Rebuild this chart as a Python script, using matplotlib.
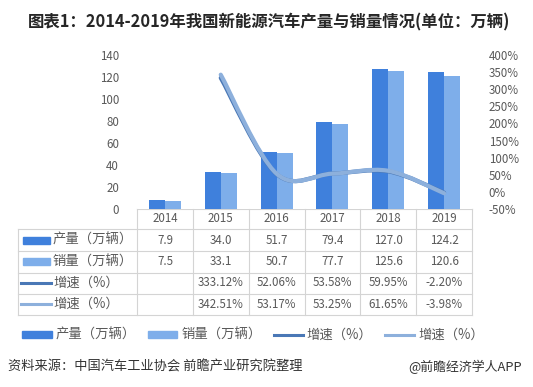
import numpy as np
import matplotlib
matplotlib.use('Agg')
import matplotlib.pyplot as plt
from matplotlib.path import Path
from matplotlib.patches import PathPatch, Patch, Rectangle
from matplotlib.lines import Line2D
from matplotlib.transforms import blended_transform_factory

plt.rcParams['font.family'] = ['Noto Sans CJK SC', 'DejaVu Sans']

# data
years = ['2014', '2015', '2016', '2017', '2018', '2019']
production = [7.9, 34.0, 51.7, 79.4, 127.0, 124.2]
sales = [7.5, 33.1, 50.7, 77.7, 125.6, 120.6]
prod_growth = [np.nan, 333.12, 52.06, 53.58, 59.95, -2.20]
sales_growth = [np.nan, 342.51, 53.17, 53.25, 61.65, -3.98]

row_labels = ['产量（万辆）', '销量（万辆）', '增速（%）', '增速（%）']

c_prod = '#3f80dc'
c_sales = '#7eaeea'
c_pg = '#4a78b6'
c_sg = '#8db0dc'
grey_txt = '#595959'
grid_c = '#d4d4d4'

W, H = 533, 387
fig = plt.figure(figsize=(W / 100, H / 100), dpi=100)


def fx(px):
    return px / W


def fy(py):
    return 1 - py / H


# overlay in pixel coordinates for the table / texts
ov = fig.add_axes([0, 0, 1, 1], zorder=-1)
ov.set_xlim(0, W)
ov.set_ylim(H, 0)
ov.axis('off')

# main chart
ax = fig.add_axes([fx(137), fy(209), (472 - 137) / W, (209 - 55) / H])
x = np.arange(len(years))
bw = 0.287
ax.bar(x - bw / 2, production, bw, color=c_prod, zorder=2)
ax.bar(x + bw / 2, sales, bw, color=c_sales, zorder=2)
ax.set_xlim(-0.5, len(years) - 0.5)
ax.set_ylim(0, 140)
ax.set_yticks(range(0, 141, 20))
ax.set_xticks([])
for s in ['top', 'right', 'left', 'bottom']:
    ax.spines[s].set_visible(False)
ax.tick_params(axis='y', length=0, pad=13, labelsize=8.3, labelcolor=grey_txt)

ax2 = ax.twinx()
ax2.set_ylim(-50, 400)
ax2.set_yticks(range(-50, 401, 50))
ax2.set_yticklabels([f'{v}%' for v in range(-50, 401, 50)])
for s in ['top', 'right', 'left', 'bottom']:
    ax2.spines[s].set_visible(False)
ax2.tick_params(axis='y', length=0, pad=12, labelsize=8.3, labelcolor=grey_txt)


def smooth_path(xs, ys):
    # Catmull-Rom style bezier (like Excel's smoothed line)
    pts = [(a, b) for a, b in zip(xs, ys) if not np.isnan(b)]
    pts = np.array(pts)
    n = len(pts)
    verts = [pts[0]]
    codes = [Path.MOVETO]
    for i in range(n - 1):
        p0 = pts[i - 1] if i > 0 else pts[i]
        p1 = pts[i]
        p2 = pts[i + 1]
        p3 = pts[i + 2] if i + 2 < n else pts[i + 1]
        c1 = p1 + (p2 - p0) / 6
        c2 = p2 - (p3 - p1) / 6
        verts += [c1, c2, p2]
        codes += [Path.CURVE4] * 3
    return Path(verts, codes)


ax2.add_patch(PathPatch(smooth_path(x, prod_growth), fill=False,
                        edgecolor=c_pg, lw=3.0, capstyle='round', zorder=3))
ax2.add_patch(PathPatch(smooth_path(x, sales_growth), fill=False,
                        edgecolor=c_sg, lw=3.0, capstyle='round', zorder=4))

# data table under the chart
tr = blended_transform_factory(ax.transData, ov.transData)
row_y = [240, 261.5, 283, 304]
ov.plot([137, 472], [209, 209], color=grid_c, lw=0.8)
for yy in [229, 251, 273, 294, 315]:
    ov.plot([18, 472], [yy, yy], color=grid_c, lw=0.8)
ov.plot([18, 18], [229, 315], color=grid_c, lw=0.8)
for i in range(len(years) + 1):
    ax.plot([i - 0.5, i - 0.5], [209, 315], color=grid_c, lw=0.8,
            transform=tr, clip_on=False)

rows = [[f'{v:.1f}' for v in production],
        [f'{v:.1f}' for v in sales],
        ['' if np.isnan(v) else f'{v:.2f}%' for v in prod_growth],
        ['' if np.isnan(v) else f'{v:.2f}%' for v in sales_growth]]
for i, yr in enumerate(years):
    ax.text(i, 219, yr, transform=tr, ha='center', va='center',
            fontsize=8.3, color=grey_txt, clip_on=False)
    for r, vals in enumerate(rows):
        ax.text(i, row_y[r], vals[i], transform=tr, ha='center', va='center',
                fontsize=8.3, color=grey_txt, clip_on=False)

ov.add_patch(Rectangle((23, row_y[0] - 3.5), 27, 7, color=c_prod))
ov.add_patch(Rectangle((23, row_y[1] - 3.5), 27, 7, color=c_sales))
ov.plot([21, 51], [row_y[2], row_y[2]], color=c_pg, lw=2.2)
ov.plot([21, 51], [row_y[3], row_y[3]], color=c_sg, lw=2.2)
for r, lab in enumerate(row_labels):
    ov.text(53, row_y[r], lab, ha='left', va='center', fontsize=9.6,
            color=grey_txt)

# legend
handles = [Patch(color=c_prod), Patch(color=c_sales),
           Line2D([], [], color=c_pg, lw=2.2),
           Line2D([], [], color=c_sg, lw=2.2)]
fig.legend(handles, row_labels, ncol=4, loc='center',
           bbox_to_anchor=(fx(253), fy(335)), frameon=False,
           fontsize=9.6, labelcolor=grey_txt, handlelength=2.2,
           handleheight=0.4, handletextpad=0.3, columnspacing=0.9)

# title and notes
fig.text(fx(269), fy(22), '图表1：2014-2019年我国新能源汽车产量与销量情况(单位：万辆)',
         ha='center', va='center', fontsize=11.8, fontweight='bold', color='#262626')
fig.text(fx(8), fy(367), '资料来源：中国汽车工业协会 前瞻产业研究院整理',
         ha='left', va='center', fontsize=9.5, color='#333333')
fig.text(fx(522), fy(367), '@前瞻经济学人APP',
         ha='right', va='center', fontsize=9.3, color='#333333')

fig.savefig('out.png', dpi=100)
